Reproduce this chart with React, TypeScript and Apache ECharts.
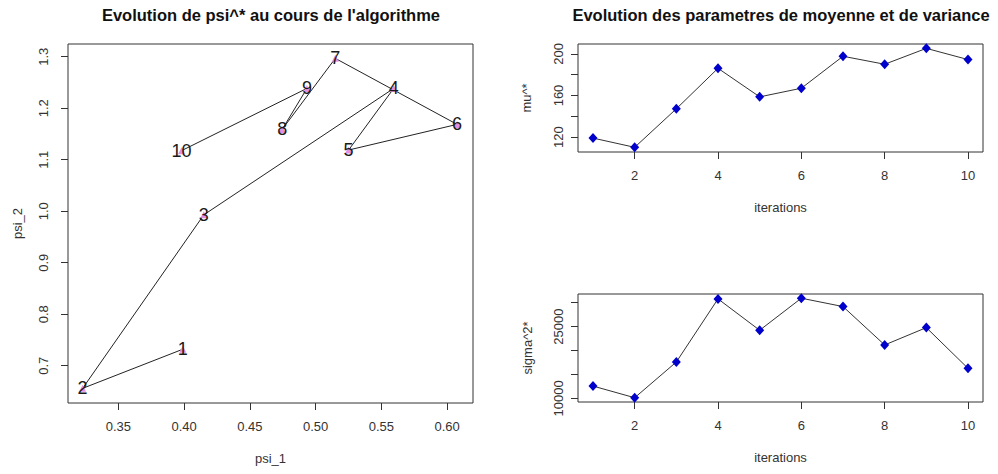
import React, { useEffect, useRef } from "react";
import * as echarts from "echarts";

const pointLabels = ["1", "2", "3", "4", "5", "6", "7", "8", "9", "10"];
const psi1 = [0.399, 0.3228, 0.415, 0.5594, 0.5251, 0.6076, 0.515, 0.4746, 0.4934, 0.398];
const psi2 = [0.732, 0.656, 0.993, 1.2385, 1.1188, 1.1686, 1.2968, 1.1589, 1.2385, 1.1175];
const iterations = [1, 2, 3, 4, 5, 6, 7, 8, 9, 10];
const mu = [119.0, 110.1, 147.2, 186.2, 158.7, 167.0, 197.8, 190.1, 205.4, 194.6];
const sigma2 = [12580, 10140, 17600, 30780, 24230, 30920, 29180, 21160, 24780, 16280];

const psi1Ticks = [0.35, 0.4, 0.45, 0.5, 0.55, 0.6];
const psi2Ticks = [0.7, 0.8, 0.9, 1.0, 1.1, 1.2, 1.3];
const iterTicks = [2, 4, 6, 8, 10];
const muTicks = [120, 140, 160, 180, 200];
const muLabels = [120, 160, 200];
const sigmaTicks = [10000, 15000, 20000, 25000, 30000];
const sigmaLabels = [10000, 25000];

const FONT = "'Liberation Sans', Arial, sans-serif";
const TXT = "#333";
const FS = 13;

function xAxisBase(gridIndex: number, min: number, max: number, ticks: number[], labels: number[], fmt: (v: number) => string, name: string) {
  return {
    type: "value",
    gridIndex,
    min,
    max,
    name,
    nameLocation: "middle",
    nameGap: 49,
    nameTextStyle: { fontFamily: FONT, fontSize: FS, color: TXT },
    axisLine: { show: false },
    axisTick: { show: true, length: 7, customValues: ticks, lineStyle: { color: TXT } },
    axisLabel: { customValues: labels, margin: 17, fontFamily: FONT, fontSize: FS, color: TXT, formatter: (v: number) => fmt(v) },
    splitLine: { show: false },
  };
}

function yAxisBase(gridIndex: number, min: number, max: number, ticks: number[], labels: number[], fmt: (v: number) => string, name: string, margin: number, nameGap: number) {
  return {
    type: "value",
    gridIndex,
    min,
    max,
    name,
    nameLocation: "middle",
    nameGap,
    nameRotate: 90,
    nameTextStyle: { fontFamily: FONT, fontSize: FS, color: TXT },
    axisLine: { show: false },
    axisTick: { show: true, length: 7, customValues: ticks, lineStyle: { color: TXT } },
    axisLabel: { customValues: labels, rotate: 90, margin, fontFamily: FONT, fontSize: FS, color: TXT, formatter: (v: number) => fmt(v) },
    splitLine: { show: false },
  };
}

export default function App() {
  const ref = useRef<HTMLDivElement>(null);
  useEffect(() => {
    if (!ref.current) return;
    const chart = echarts.init(ref.current, undefined, { renderer: "svg" });
    const gridStyle = { show: true, borderColor: "#333", borderWidth: 1, backgroundColor: "transparent" };
    chart.setOption({
      animation: false,
      backgroundColor: "#fff",
      title: [
        {
          text: "Evolution de psi^* au cours de l'algorithme",
          left: 271,
          top: 6,
          textAlign: "center",
          padding: 0,
          textStyle: { fontFamily: FONT, fontSize: 16.5, fontWeight: "bold", color: "#111" },
        },
        {
          text: "Evolution des parametres de moyenne et de variance",
          left: 781,
          top: 6,
          textAlign: "center",
          padding: 0,
          textStyle: { fontFamily: FONT, fontSize: 16.5, fontWeight: "bold", color: "#111" },
        },
      ],
      grid: [
        { left: 68, top: 44, width: 405, height: 359, ...gridStyle },
        { left: 578, top: 44, width: 405, height: 108, ...gridStyle },
        { left: 578, top: 294, width: 405, height: 108, ...gridStyle },
      ],
      xAxis: [
        xAxisBase(0, 0.3117, 0.6197, psi1Ticks, psi1Ticks, (v) => v.toFixed(2), "psi_1"),
        xAxisBase(1, 0.64, 10.36, iterTicks, iterTicks, (v) => String(v), "iterations"),
        xAxisBase(2, 0.64, 10.36, iterTicks, iterTicks, (v) => String(v), "iterations"),
      ],
      yAxis: [
        yAxisBase(0, 0.6276, 1.3247, psi2Ticks, psi2Ticks, (v) => v.toFixed(1), "psi_2", 18, 44),
        yAxisBase(1, 105.6, 209.6, muTicks, muLabels, (v) => String(v), "mu^*", 13, 45),
        yAxisBase(2, 9250, 31800, sigmaTicks, sigmaLabels, (v) => String(v), "sigma^2*", 13, 44),
      ],
      series: [
        {
          type: "line",
          xAxisIndex: 0,
          yAxisIndex: 0,
          data: psi1.map((x, i) => [x, psi2[i]]),
          showSymbol: true,
          showAllSymbol: true,
          symbol: "triangle",
          symbolSize: 7,
          itemStyle: { color: "#e58ee5" },
          lineStyle: { color: "#222", width: 1 },
          label: {
            show: true,
            position: "inside",
            formatter: (p: any) => pointLabels[p.dataIndex],
            fontFamily: FONT,
            fontSize: 18,
            color: "#1a1a1a",
          },
          z: 3,
        },
        {
          type: "line",
          xAxisIndex: 1,
          yAxisIndex: 1,
          data: iterations.map((x, i) => [x, mu[i]]),
          showSymbol: true,
          showAllSymbol: true,
          symbol: "diamond",
          symbolSize: [9, 10],
          itemStyle: { color: "#0000cc" },
          lineStyle: { color: "#333", width: 1 },
        },
        {
          type: "line",
          xAxisIndex: 2,
          yAxisIndex: 2,
          data: iterations.map((x, i) => [x, sigma2[i]]),
          showSymbol: true,
          showAllSymbol: true,
          symbol: "diamond",
          symbolSize: [9, 10],
          itemStyle: { color: "#0000cc" },
          lineStyle: { color: "#333", width: 1 },
        },
      ],
    });
    return () => chart.dispose();
  }, []);
  return <div ref={ref} style={{ position: "fixed", left: 0, top: 0, width: 998, height: 474 }} />;
}
